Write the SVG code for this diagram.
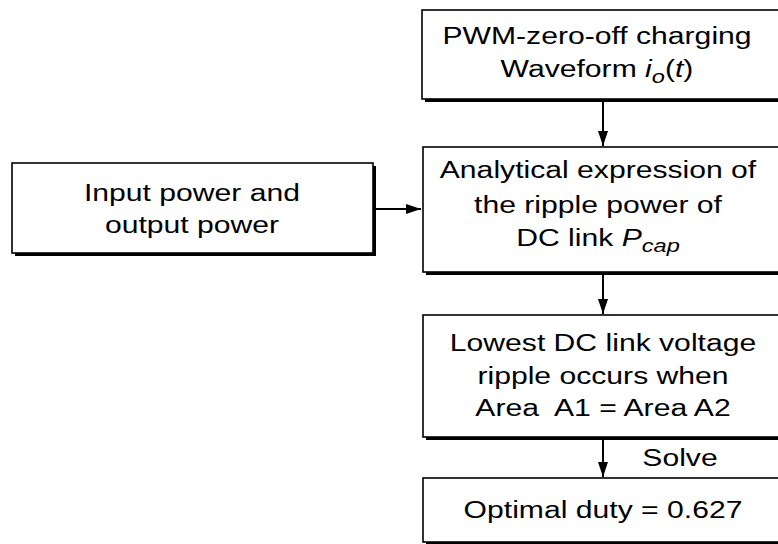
<svg xmlns="http://www.w3.org/2000/svg" width="778" height="544" viewBox="0 0 778 544">
  <style>
    .box { fill: #fff; stroke: #000; stroke-width: 1.6; }
    .shadow { fill: #000; }
    .lbl { font-family: "Liberation Sans", Arial, sans-serif; font-size: 23px; fill: #000; text-anchor: middle; }
    .it { font-style: italic; }
    .sub { font-size: 18px; font-style: italic; }
    .conn { stroke: #000; stroke-width: 2; fill: none; }
  </style>
  <defs>
    <marker id="arrow" viewBox="0 0 10 10" refX="10" refY="5" markerWidth="7.5" markerHeight="5" preserveAspectRatio="none" markerUnits="strokeWidth" orient="auto">
      <path d="M0,0 L10,5 L0,10 z" fill="#000"/>
    </marker>
  </defs>

  <rect width="778" height="544" fill="#fff"/>

  <!-- connectors -->
  <g id="connectors">
    <line class="conn" x1="603" y1="101" x2="603" y2="146" marker-end="url(#arrow)"/>
    <line class="conn" x1="376" y1="209" x2="421" y2="209" marker-end="url(#arrow)"/>
    <line class="conn" x1="603" y1="274" x2="603" y2="314" marker-end="url(#arrow)"/>
    <line class="conn" x1="603" y1="439" x2="603" y2="477" marker-end="url(#arrow)"/>
    <g transform="translate(680,0) scale(1.31,1)">
      <text class="lbl" x="0" y="466">Solve</text>
    </g>
  </g>

  <!-- waveform source -->
  <g id="node-waveform">
    <rect class="shadow" x="425" y="13" width="370" height="89"/>
    <rect class="box" x="422" y="10" width="370" height="89"/>
    <g transform="translate(597,0) scale(1.31,1)">
      <text class="lbl" x="0" y="44">PWM-zero-off charging</text>
      <text class="lbl" x="0" y="77">Waveform <tspan class="it">i</tspan><tspan class="sub" dy="6">o</tspan><tspan dy="-6">(</tspan><tspan class="it">t</tspan>)</text>
    </g>
  </g>

  <!-- power input -->
  <g id="node-power">
    <rect class="shadow" x="15" y="166" width="361" height="90"/>
    <rect class="box" x="12" y="163" width="361" height="90"/>
    <g transform="translate(192,0) scale(1.31,1)">
      <text class="lbl" x="0" y="201">Input power and</text>
      <text class="lbl" x="0" y="233">output power</text>
    </g>
  </g>

  <!-- ripple power expression -->
  <g id="node-ripple">
    <rect class="shadow" x="426" y="150" width="370" height="125"/>
    <rect class="box" x="423" y="147" width="370" height="125"/>
    <g transform="translate(598,0) scale(1.31,1)">
      <text class="lbl" x="0" y="178">Analytical expression of</text>
      <text class="lbl" x="0" y="213">the ripple power of</text>
      <text class="lbl" x="0" y="246">DC link <tspan class="it">P</tspan><tspan class="sub" dy="6">cap</tspan></text>
    </g>
  </g>

  <!-- minimum ripple condition -->
  <g id="node-condition">
    <rect class="shadow" x="426" y="318" width="370" height="122"/>
    <rect class="box" x="423" y="315" width="370" height="122"/>
    <g transform="translate(603,0) scale(1.31,1)">
      <text class="lbl" x="0" y="351">Lowest DC link voltage</text>
      <text class="lbl" x="0" y="384">ripple occurs when</text>
      <text class="lbl" x="0" y="416" xml:space="preserve">Area  A1 = Area A2</text>
    </g>
  </g>

  <!-- result -->
  <g id="node-result">
    <rect class="shadow" x="426" y="481" width="370" height="64"/>
    <rect class="box" x="423" y="478" width="370" height="64"/>
    <g transform="translate(603,0) scale(1.31,1)">
      <text class="lbl" x="0" y="518">Optimal duty = 0.627</text>
    </g>
  </g>
</svg>
